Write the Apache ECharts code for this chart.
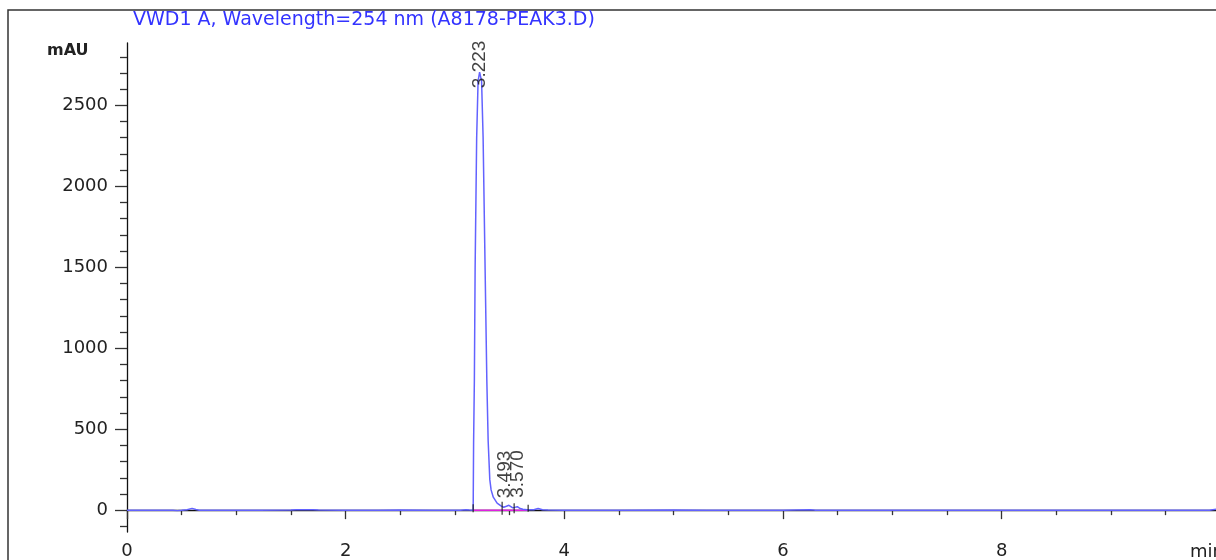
<!DOCTYPE html>
<html>

<head>
    <meta charset="utf-8">
    <title>VWD1 A</title>
    <script type="text/javascript" src="https://cdn.jsdelivr.net/npm/echarts@6/dist/echarts.min.js"></script>
    <style>
        html, body { margin: 0; padding: 0; background: #fff; }
    </style>
</head>

<body>
    <div id="main" style="width: 1216px;height:560px;"></div>
    <script type="text/javascript">
        // retention time (min) and detector signal (mAU)
        var times = [0.00, 0.30, 0.42, 0.46, 0.50, 0.55, 0.595, 0.63, 0.66, 0.90, 1.20, 1.50, 1.55, 1.70, 1.75,
            2.00, 2.30, 2.50, 2.80, 3.05, 3.10, 3.13, 3.166,
            3.170, 3.177, 3.184, 3.198, 3.211, 3.225, 3.243, 3.257, 3.275, 3.291, 3.303, 3.318, 3.330,
            3.350, 3.385, 3.420, 3.445, 3.470, 3.493, 3.510, 3.525, 3.545, 3.570, 3.590, 3.620, 3.660,
            3.720, 3.760, 3.800, 3.850, 4.00, 4.50, 5.00, 5.30, 5.60, 6.00, 6.25, 6.30, 7.00, 8.00, 9.00,
            9.90, 9.93, 9.96];
        var signal = [0, 0, -1, -3, -1, 3, 11, 4, 0, 0, 0, 1, 3, 3, 1,
            0, 0, 1, 0, 0, 2, 1, 0,
            420, 800, 1500, 2300, 2650, 2705, 2650, 2300, 1500, 800, 430, 190, 125,
            80, 43, 26, 18, 24, 30, 22, 15, 17, 21, 12, 5, 2,
            2, 10, 3, 1, 0, 0, 1, 0, 0, 0, 2, 0, 0, 0, 0,
            0, 3, 6];

        // integrated peaks
        var peakRT = [3.223, 3.493, 3.570];
        var peakHeight = [2705, 30, 21];

        // integration start / end marks and baseline
        var eventRT = [3.166, 3.431, 3.541, 3.669];
        var baseStart = 3.166, baseEnd = 3.669;

        var yLabels = [0, 500, 1000, 1500, 2000, 2500];
        var yMinor = [-100, 100, 200, 300, 400, 600, 700, 800, 900, 1100, 1200, 1300, 1400,
            1600, 1700, 1800, 1900, 2100, 2200, 2300, 2400, 2600, 2700, 2800];
        var xLabels = [0, 2, 4, 6, 8];
        var xMinor = [0.5, 1, 1.5, 2.5, 3, 3.5, 4.5, 5, 5.5, 6.5, 7, 7.5, 8.5, 9, 9.5];

        var trace = times.map(function (t, i) { return [t, signal[i]]; });
        var peaks = peakRT.map(function (t, i) { return [t, peakHeight[i]]; });
        var events = eventRT.map(function (t) { return [t, 0]; });

        var font = 'DejaVu Sans';
        var myChart = echarts.init(document.getElementById('main'), null, { renderer: 'canvas' });

        // label shifts are in the rotated text frame: dx<0 moves down, dy<0 moves left
        var labelShift = [{ dx: -16, dy: 0 }, { dx: 7, dy: -4 }, { dx: 9, dy: 0 }];

        var option = {
            animation: false,
            backgroundColor: '#fff',
            grid: { left: 127, right: 0, top: 43, bottom: 28 },
            xAxis: [{
                type: 'value', min: 0, max: 9.96,
                axisLine: { lineStyle: { color: '#111', width: 1.3 } },
                axisTick: { customValues: xLabels, length: 9, lineStyle: { color: '#333', width: 1.3 } },
                axisLabel: {
                    customValues: xLabels, margin: 10, fontFamily: font, fontSize: 18, color: '#222',
                    formatter: function (v) { return String(v); }
                },
                splitLine: { show: false }
            }, {
                type: 'value', min: 0, max: 9.96, position: 'bottom',
                axisLine: { show: false },
                axisTick: { customValues: xMinor, length: 5, lineStyle: { color: '#333', width: 1.3 } },
                axisLabel: { show: false },
                splitLine: { show: false }
            }],
            yAxis: [{
                type: 'value', min: -135, max: 2885,
                axisLine: { show: true, lineStyle: { color: '#111', width: 1.3 } },
                axisTick: { show: true, customValues: yLabels, length: 12, lineStyle: { color: '#333', width: 1.3 } },
                axisLabel: {
                    customValues: yLabels, margin: 19, fontFamily: font, fontSize: 18, color: '#222',
                    formatter: function (v) { return String(v); }
                },
                splitLine: { show: false }
            }, {
                type: 'value', min: -135, max: 2885, position: 'left',
                axisLine: { show: false },
                axisTick: { show: true, customValues: yMinor, length: 7, lineStyle: { color: '#333', width: 1.3 } },
                axisLabel: { show: false },
                splitLine: { show: false }
            }],
            graphic: [
                {
                    type: 'polyline', silent: true,
                    shape: { points: [[8, 560], [8, 10], [1216, 10]] },
                    style: { stroke: '#333', lineWidth: 1.5, fill: null }
                },
                {
                    type: 'text', left: 133, top: 11,
                    style: { text: 'VWD1 A, Wavelength=254 nm (A8178-PEAK3.D)', fill: '#3333ff', font: '19px "DejaVu Sans"' }
                },
                {
                    type: 'text', left: 47, top: 43,
                    style: { text: 'mAU', fill: '#222', font: 'bold 16px "DejaVu Sans"' }
                },
                {
                    type: 'text', left: 1190, top: 543,
                    style: { text: 'min', fill: '#222', font: '18px "DejaVu Sans"' }
                }
            ],
            series: [
                {
                    name: 'baseline', type: 'line', data: [[baseStart, 0], [baseEnd, 0]],
                    symbol: 'none', lineStyle: { color: '#e020e0', width: 1.5 }, z: 2
                },
                {
                    name: 'VWD1 A', type: 'line', data: trace,
                    symbol: 'none', lineStyle: { color: '#6262ff', width: 1.5 }, z: 3
                },
                {
                    name: 'events', type: 'scatter', data: events,
                    symbol: 'rect',
                    symbolSize: function (v, p) { return [1.3, [8, 13, 10, 7][p.dataIndex]]; },
                    symbolOffset: [0, -2],
                    itemStyle: { color: '#111' }, z: 4
                },
                {
                    name: 'peaks', type: 'scatter', data: peaks,
                    symbolSize: 0,
                    label: {
                        show: true, position: 'inside', rotate: 90, align: 'left', verticalAlign: 'middle',
                        fontFamily: 'Liberation Sans', fontSize: 19, color: '#111',
                        formatter: function (p) { return p.value[0].toFixed(3); }
                    },
                    labelLayout: function (p) { return labelShift[p.dataIndex]; },
                    z: 5
                }
            ]
        };

        myChart.setOption(option);
    </script>
</body>

</html>
